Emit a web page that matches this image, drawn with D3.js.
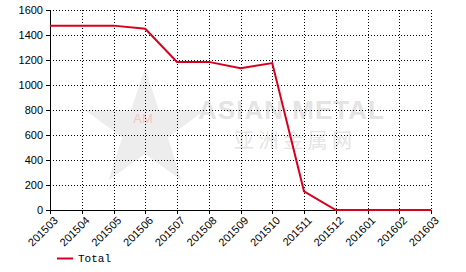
<!DOCTYPE html>
<html><head><meta charset="utf-8">
<style>
body { margin: 0; background: #fff; }
.axis text { font: 11px "Liberation Sans", Arial, sans-serif; fill: #000; }
.axis path, .axis line { stroke: #000; shape-rendering: crispEdges; }
.grid line { stroke: #000; stroke-dasharray: 1,2; shape-rendering: crispEdges; }
</style>
</head><body>
<script src="https://cdn.jsdelivr.net/npm/d3@7"></script>
<script>

var months = ["201503","201504","201505","201506","201507","201508","201509",
              "201510","201511","201512","201601","201602","201603"];
var total = [1475, 1475, 1475, 1450, 1185, 1185, 1135, 1175, 150, 0, 0, 0, 0];
var yTicks = [0, 200, 400, 600, 800, 1000, 1200, 1400, 1600];

var margin = {top: 10, right: 35, bottom: 62, left: 50},
    width = 466 - margin.left - margin.right,
    height = 272 - margin.top - margin.bottom;

var svg = d3.select("body").append("svg")
    .attr("width", 466)
    .attr("height", 272);

// watermark
var wm = svg.append("g");
var star = d3.range(10).map(function(i) {
  var r = i % 2 ? 24 : 62, a = -Math.PI / 2 + i * Math.PI / 5;
  return [145 + r * Math.cos(a), 130 + r * Math.sin(a)];
});
wm.append("polygon").attr("points", star.join(" ")).attr("fill", "#ededed");
wm.append("text").attr("x", 143).attr("y", 123).attr("text-anchor", "middle")
    .style("font", "13px 'Liberation Sans', sans-serif").attr("fill", "#f7c4c4").text("AM");
wm.append("text").attr("x", 198).attr("y", 119)
    .style("font", "bold 26px 'Liberation Sans', sans-serif").attr("fill", "#e4e4e4")
    .attr("textLength", 186).text("ASIAN METAL");
wm.append("text").attr("x", 234).attr("y", 148)
    .style("font", "20px 'Noto Sans CJK SC', sans-serif").attr("fill", "#e4e4e4")
    .attr("textLength", 118).text("亚洲金属网");

var g = svg.append("g")
    .attr("transform", "translate(" + margin.left + "," + margin.top + ")");

var x = d3.scalePoint().domain(months).range([0, width]);
var y = d3.scaleLinear().domain([0, 1600]).range([height, 0]);

// grid
var grid = g.append("g").attr("class", "grid");
grid.selectAll(".h").data(yTicks.slice(1)).enter().append("line")
    .attr("x1", 0).attr("x2", width)
    .attr("y1", function(d) { return Math.round(y(d)) + 0.5; })
    .attr("y2", function(d) { return Math.round(y(d)) + 0.5; });
grid.selectAll(".v").data(months.slice(1)).enter().append("line")
    .attr("y1", 0).attr("y2", height)
    .attr("x1", function(d) { return Math.round(x(d)) + 0.5; })
    .attr("x2", function(d) { return Math.round(x(d)) + 0.5; });

g.append("g")
    .attr("class", "axis")
    .attr("transform", "translate(0," + height + ")")
    .call(d3.axisBottom(x).tickSize(4).tickSizeOuter(0))
  .selectAll("text")
    .attr("text-anchor", "end")
    .attr("dx", "-0.2em")
    .attr("dy", "0.6em")
    .attr("transform", "rotate(-45)");

g.append("g")
    .attr("class", "axis")
    .call(d3.axisLeft(y).tickValues(yTicks).tickFormat(d3.format("d"))
      .tickSize(4).tickSizeOuter(0).tickPadding(3));

g.selectAll(".axis path").attr("stroke-width", 1.5);

var line = d3.line()
    .x(function(d, i) { return x(months[i]); })
    .y(function(d) { return y(d); });

g.append("path")
    .datum(total)
    .attr("fill", "none")
    .attr("stroke", "#d7001e")
    .attr("stroke-width", 2)
    .attr("d", line);

// legend
svg.append("line")
    .attr("x1", 57).attr("x2", 73).attr("y1", 258.5).attr("y2", 258.5)
    .attr("stroke", "#d7001e").attr("stroke-width", 2);
svg.append("text")
    .attr("x", 78).attr("y", 262)
    .style("font", "11px 'Liberation Mono', monospace")
    .text("Total");

</script>
</body></html>
